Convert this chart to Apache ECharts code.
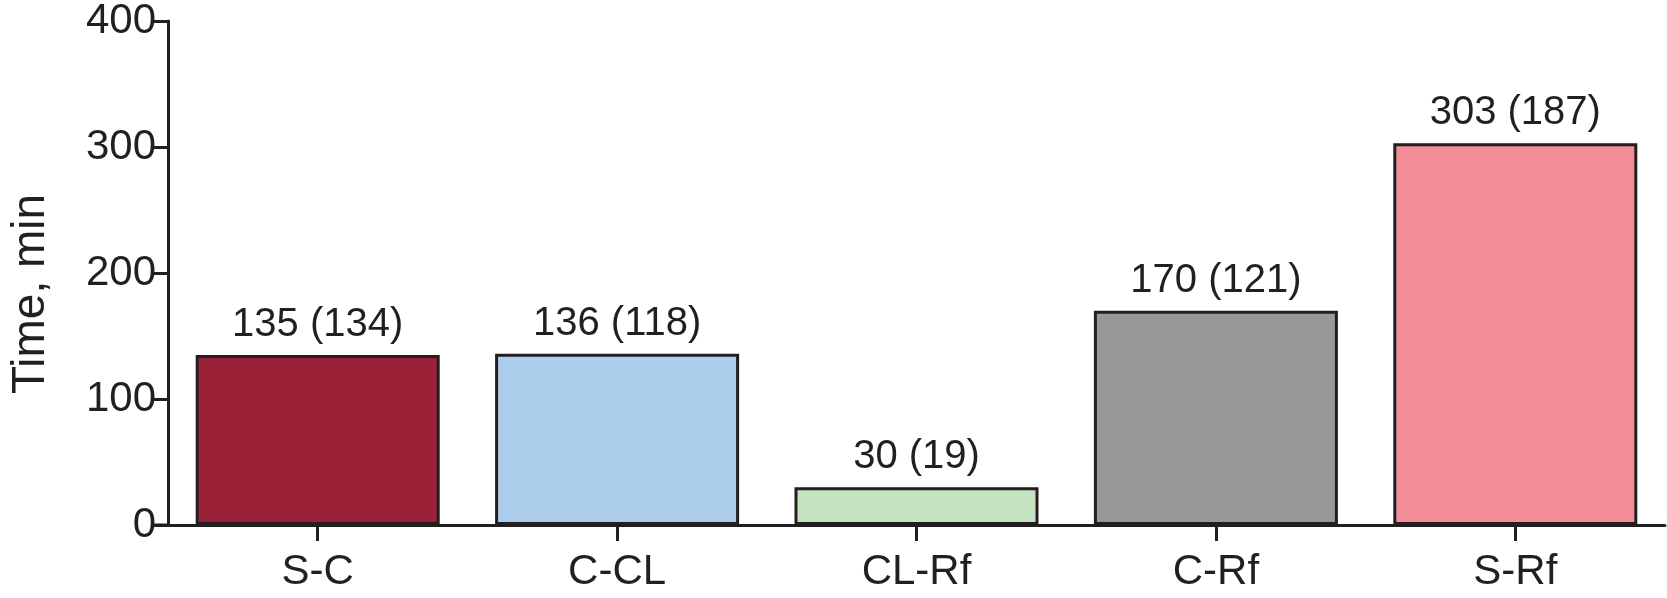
<!DOCTYPE html>
<html>
<head>
<meta charset="utf-8">
<script src="https://cdn.jsdelivr.net/npm/echarts@6/dist/echarts.min.js"></script>
<style>
html,body{margin:0;padding:0;background:#fff;}
#chart{width:1667px;height:598px;}
</style>
</head>
<body>
<div id="chart"></div>
<script>
const categories = ['S-C', 'C-CL', 'CL-Rf', 'C-Rf', 'S-Rf'];
const meanTimes = [135, 136, 30, 170, 303];
const sdTimes = [134, 118, 19, 121, 187];
const barColors = ['#9b2139', '#accdec', '#c5e3c1', '#989898', '#f38d98'];
const yTicks = [0, 100, 200, 300, 400];

const ink = '#231f20';
const font = 'Liberation Sans, Arial, sans-serif';
const chart = echarts.init(document.getElementById('chart'), null, {renderer: 'canvas'});

chart.setOption({
  backgroundColor: '#ffffff',
  animation: false,
  grid: {left: 167, right: 2, top: 19, bottom: 73, containLabel: false},
  xAxis: {
    type: 'category',
    data: categories,
    axisLine: {lineStyle: {color: ink, width: 3}},
    axisTick: {show: true, alignWithLabel: true, length: 16, lineStyle: {color: ink, width: 3}},
    axisLabel: {color: ink, fontSize: 42, fontFamily: font, margin: 26}
  },
  yAxis: {
    type: 'value',
    min: yTicks[0],
    max: yTicks[yTicks.length - 1],
    interval: 100,
    name: 'Time, min',
    nameLocation: 'middle',
    nameGap: 114,
    nameTextStyle: {color: ink, fontSize: 46, fontFamily: font, padding: [0, 42, 0, 0]},
    axisLine: {show: true, lineStyle: {color: ink, width: 3}},
    axisTick: {show: true, length: 15, lineStyle: {color: ink, width: 3}},
    axisLabel: {color: ink, fontSize: 42, fontFamily: font, margin: 12},
    splitLine: {show: false}
  },
  series: [{
    type: 'bar',
    barCategoryGap: '18.5%',
    data: meanTimes.map((v, i) => ({
      value: v,
      itemStyle: {color: barColors[i], borderColor: ink, borderWidth: 3}
    })),
    label: {
      show: true,
      position: 'top',
      distance: 10,
      color: ink,
      fontSize: 40,
      fontFamily: font,
      formatter: p => meanTimes[p.dataIndex] + ' (' + sdTimes[p.dataIndex] + ')'
    }
  }]
});

// extend the x axis baseline leftwards under the y-axis tick marks
const zeroPt = chart.convertToPixel({gridIndex: 0}, [0, 0]);
const y0 = chart.convertToPixel({yAxisIndex: 0}, 0);
const gridLeft = 167;
chart.setOption({
  graphic: [{
    type: 'line',
    shape: {x1: gridLeft - 15, y1: y0, x2: gridLeft, y2: y0},
    style: {stroke: ink, lineWidth: 3},
    silent: true
  }]
});
</script>
</body>
</html>
